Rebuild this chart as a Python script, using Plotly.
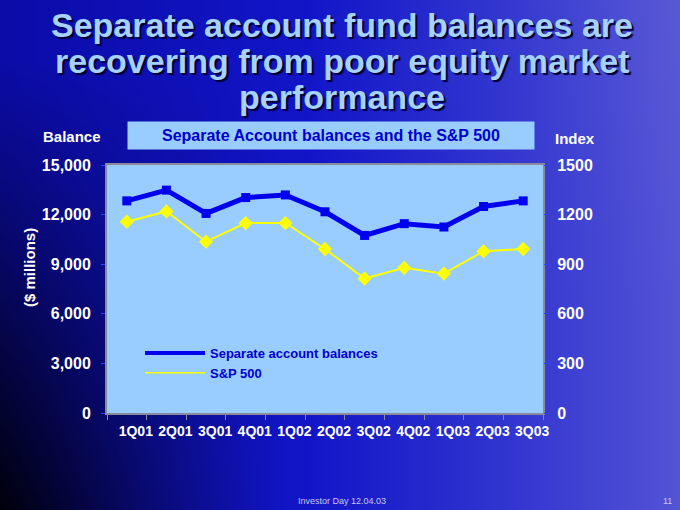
import base64, struct, zlib
import numpy as np
import plotly.graph_objects as go

# ---------------- data ----------------
quarters = ["1Q01", "2Q01", "3Q01", "4Q01", "1Q02", "2Q02", "3Q02", "4Q02", "1Q03", "2Q03", "3Q03"]
balances = [12830, 13480, 12070, 13030, 13190, 12170, 10740, 11450, 11250, 12490, 12830]
sp500 = [1157, 1219, 1036, 1149, 1149, 992, 813, 878, 843, 978, 992]
left_ticks = [0, 3000, 6000, 9000, 12000, 15000]
right_ticks = [0, 300, 600, 900, 1200, 1500]

W, H = 680, 510
FONT = "Liberation Sans, Arial, sans-serif"


# ---------------- background gradient (slide) ----------------
def make_bg_png(w=170, h=128):
    u = np.linspace(0, 1, w)[None, :].repeat(h, 0)
    v = np.linspace(0, 1, h)[:, None].repeat(w, 1)
    xs = [0.0, 0.45, 0.75, 1.0]
    r = np.interp(u, xs, [12, 18, 50, 84])
    g = np.interp(u, xs, [12, 22, 54, 84])
    b = np.interp(u, xs, [168, 200, 208, 214])
    lift = np.clip(u - 0.5, 0, 1) * np.clip(0.6 - v, 0, 1) * 20
    r, g = r + lift, g + lift
    wgt = np.clip((0.42 - u) / 0.42, 0, 1) ** 1.2 * np.clip((v - 0.12) / 0.88, 0, 1)
    f = 1 - 0.92 * wgt
    img = np.stack([r * f, g * f, b * f], axis=-1).clip(0, 255).astype(np.uint8)
    raw = b"".join(b"\x00" + img[i].tobytes() for i in range(h))

    def chunk(tag, data):
        c = struct.pack(">I", len(data)) + tag + data
        return c + struct.pack(">I", zlib.crc32(tag + data) & 0xFFFFFFFF)

    png = b"\x89PNG\r\n\x1a\n" + chunk(b"IHDR", struct.pack(">IIBBBBB", w, h, 8, 2, 0, 0, 0)) \
        + chunk(b"IDAT", zlib.compress(raw, 9)) + chunk(b"IEND", b"")
    return "data:image/png;base64," + base64.b64encode(png).decode()


def px(x):
    return x / W


def py(y):
    return 1 - y / H


fig = go.Figure()

fig.add_trace(go.Scatter(
    x=quarters, y=balances, mode="lines+markers", name="Separate account balances",
    line=dict(color="#0000ee", width=5), marker=dict(symbol="square", size=9, color="#0000ee"),
    showlegend=False, yaxis="y"))
fig.add_trace(go.Scatter(
    x=quarters, y=sp500, mode="lines+markers", name="S&P 500",
    line=dict(color="#ffff00", width=2), marker=dict(symbol="diamond", size=11, color="#ffff00"),
    showlegend=False, yaxis="y2"))
# legend entries (lines only, as in the reference)
fig.add_trace(go.Scatter(x=[None], y=[None], mode="lines", name="Separate account balances",
                         line=dict(color="#0000ee", width=4), showlegend=True))
fig.add_trace(go.Scatter(x=[None], y=[None], mode="lines", name="S&P 500",
                         line=dict(color="#ffff00", width=1.5), showlegend=True, yaxis="y2"))

tickfont = dict(family=FONT, size=16, color="white", weight="bold")

fig.update_layout(
    template="none",
    width=W, height=H, autosize=False,
    margin=dict(l=0, r=0, t=0, b=0, pad=0),
    paper_bgcolor="#1418c8",
    plot_bgcolor="#99ccff",
    images=[dict(source=make_bg_png(), xref="paper", yref="paper", x=0, y=1, sizex=1, sizey=1,
                 sizing="stretch", xanchor="left", yanchor="top", layer="below")],
    shapes=[dict(type="rect", xref="x domain", yref="y domain", x0=0, x1=1, y0=0, y1=1,
                 fillcolor="#99ccff", line=dict(width=0), layer="below")],
    xaxis=dict(domain=[px(107), px(543)], type="category", range=[-0.5, len(quarters) - 0.5],
               showgrid=False, zeroline=False,
               showline=True, mirror=True, linecolor="#8a8a9a", linewidth=2,
               ticks="outside", tickson="boundaries", ticklen=5, tickcolor="#8a8aa0",
               tickangle=0, automargin=False,
               tickfont=dict(family=FONT, size=14, color="white", weight="bold"),
               ticklabelshift=9, ticklabelstandoff=4, fixedrange=True),
    yaxis=dict(domain=[py(413), py(165)], range=[0, 15000], tickvals=left_ticks, tickformat=",",
               showgrid=False, zeroline=False, showline=True, mirror=True, linecolor="#8a8a9a",
               linewidth=2, ticks="outside", ticklen=4, tickcolor="#3040ff", automargin=False,
               tickfont=tickfont, ticklabelstandoff=7),
    yaxis2=dict(overlaying="y", side="right", range=[0, 1500], tickvals=right_ticks,
                showgrid=False, zeroline=False, showline=False, ticks="outside", ticklen=6,
                tickcolor="#3040ff", tickfont=tickfont, ticklabelstandoff=4, automargin=False),
    legend=dict(x=px(140), y=py(338), xanchor="left", yanchor="top", bgcolor="rgba(0,0,0,0)",
                borderwidth=0,
                font=dict(family=FONT, size=13, color="#0000cc", weight="bold"),
                itemwidth=60, tracegroupgap=0),
    showlegend=True,
)

title_font = dict(family=FONT, size=34, color="#a6d2ff", weight="bold",
                  shadow="2px 2px 1px #000030")
title_lines = ["Separate account fund balances are",
               "recovering from poor equity market",
               "performance"]
for line, yc in zip(title_lines, [25, 61, 97]):
    fig.add_annotation(text=line, x=px(342), y=py(yc), xref="paper", yref="paper",
                       xanchor="center", yanchor="middle", showarrow=False, font=title_font)

fig.add_annotation(text="Separate Account balances and the S&P 500", x=px(331), y=py(136),
                   xref="paper", yref="paper", xanchor="center", yanchor="middle", showarrow=False,
                   width=406, height=27, borderpad=0, bgcolor="#99ccff",
                   font=dict(family=FONT, size=16, color="#0000cc", weight="bold"))

lbl = dict(family=FONT, size=15, color="white", weight="bold")
fig.add_annotation(text="Balance", x=px(72), y=py(137), xref="paper", yref="paper",
                   xanchor="center", yanchor="middle", showarrow=False, font=lbl)
fig.add_annotation(text="Index", x=px(575), y=py(139), xref="paper", yref="paper",
                   xanchor="center", yanchor="middle", showarrow=False, font=lbl)
fig.add_annotation(text="($ millions)", x=px(29), y=py(268), xref="paper", yref="paper",
                   xanchor="center", yanchor="middle", showarrow=False, textangle=-90, font=lbl)

foot = dict(family=FONT, size=9, color="#c8c8f0")
fig.add_annotation(text="Investor Day 12.04.03", x=px(342), y=py(501), xref="paper", yref="paper",
                   xanchor="center", yanchor="middle", showarrow=False, font=foot)
fig.add_annotation(text="11", x=px(667), y=py(501), xref="paper", yref="paper",
                   xanchor="center", yanchor="middle", showarrow=False, font=foot)

fig.write_html("out.html", config={"displayModeBar": False},
               post_script="document.body.style.margin='0';document.body.style.overflow='hidden';")
